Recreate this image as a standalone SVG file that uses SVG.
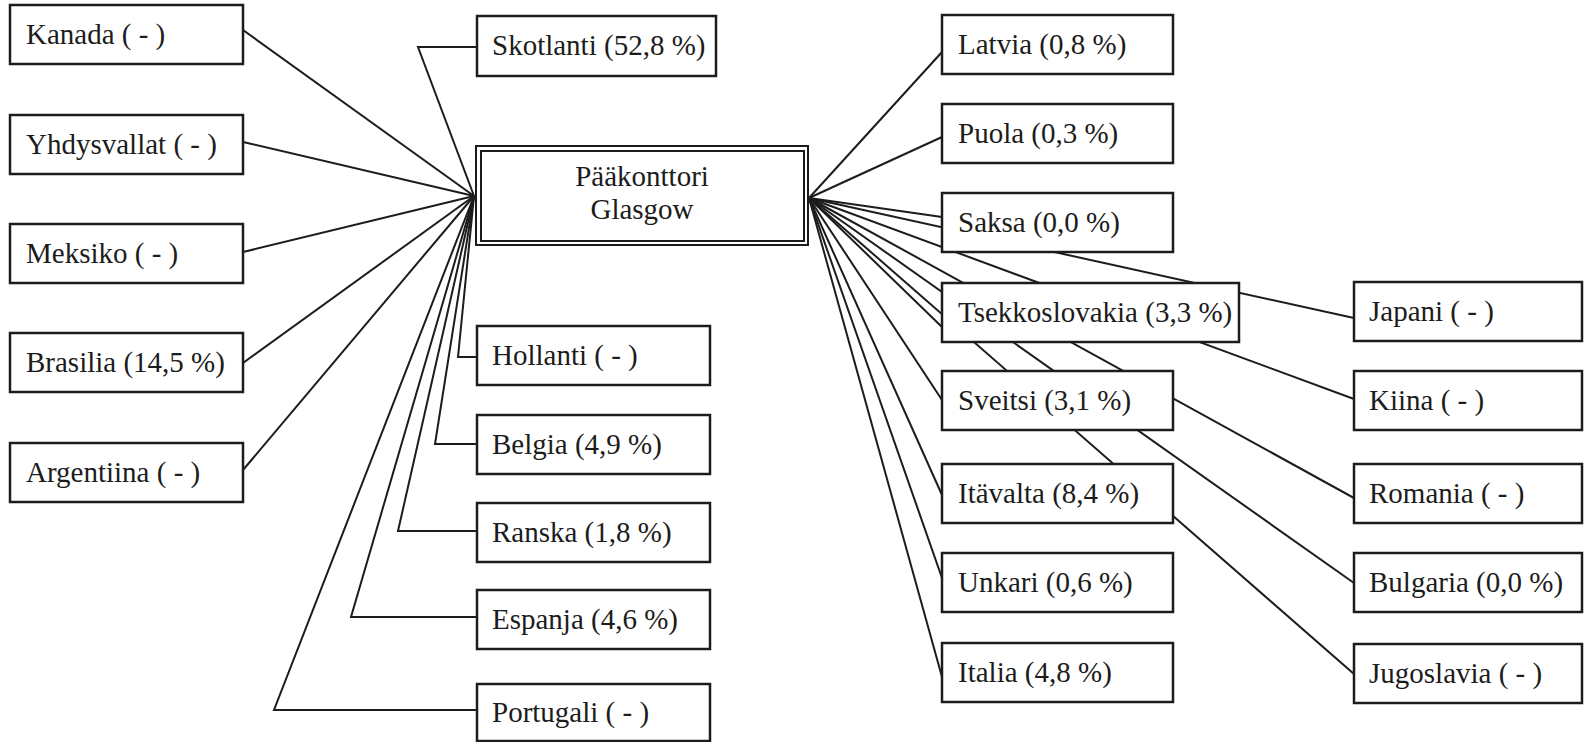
<svg xmlns="http://www.w3.org/2000/svg" width="1584" height="742" viewBox="0 0 1584 742">
<style>
.bg{fill:#ffffff}
.box{fill:#ffffff;stroke:#1c1c1c;stroke-width:2.5}
.hub{fill:none;stroke:#1c1c1c;stroke-width:2}
.lbl{font-family:"Liberation Serif","Times New Roman",serif;font-size:29px;fill:#1c1c1c}
.ctr{text-anchor:middle}
.con line,.con polyline{fill:none;stroke:#1c1c1c;stroke-width:2}
</style>
<rect class="bg" x="0" y="0" width="1584" height="742"/>
<g id="connectors" class="con">
<line x1="243" y1="30" x2="474" y2="196"/>
<line x1="243" y1="142" x2="474" y2="196"/>
<line x1="243" y1="252" x2="474" y2="196"/>
<line x1="243" y1="363" x2="474" y2="196"/>
<line x1="243" y1="470" x2="474" y2="196"/>
<polyline points="474,196 418,47 477,47"/>
<polyline points="474,196 458,357 477,357"/>
<polyline points="474,196 435,444 477,444"/>
<polyline points="474,196 398,531 477,531"/>
<polyline points="474,196 351,617 477,617"/>
<polyline points="474,196 274,710 477,710"/>
<line x1="809" y1="198" x2="942" y2="52"/>
<line x1="809" y1="198" x2="942" y2="137"/>
<line x1="809" y1="198" x2="942" y2="217"/>
<line x1="809" y1="198" x2="942" y2="327"/>
<line x1="809" y1="198" x2="942" y2="400"/>
<line x1="809" y1="198" x2="942" y2="495"/>
<line x1="809" y1="198" x2="942" y2="578"/>
<line x1="809" y1="198" x2="942" y2="677"/>
<line x1="809" y1="198" x2="1354" y2="318"/>
<line x1="809" y1="198" x2="1354" y2="399"/>
<line x1="809" y1="198" x2="1354" y2="498"/>
<line x1="809" y1="198" x2="1354" y2="583"/>
<line x1="809" y1="198" x2="1354" y2="674"/>
</g>
<g id="hub">
<rect x="476" y="146" width="332" height="99" fill="#ffffff" stroke="#1c1c1c" stroke-width="2"/>
<rect class="hub" x="481" y="151" width="323" height="90"/>
<text class="lbl ctr" x="642" y="186">Pääkonttori</text>
<text class="lbl ctr" x="642" y="219">Glasgow</text>
</g>
<g id="kanada"><rect class="box" x="10" y="5" width="233" height="59"/><text class="lbl" x="26" y="44">Kanada ( - )</text></g>
<g id="yhdysvallat"><rect class="box" x="10" y="115" width="233" height="59"/><text class="lbl" x="26" y="154">Yhdysvallat ( - )</text></g>
<g id="meksiko"><rect class="box" x="10" y="224" width="233" height="59"/><text class="lbl" x="26" y="263">Meksiko ( - )</text></g>
<g id="brasilia"><rect class="box" x="10" y="333" width="233" height="59"/><text class="lbl" x="26" y="372">Brasilia (14,5 %)</text></g>
<g id="argentiina"><rect class="box" x="10" y="443" width="233" height="59"/><text class="lbl" x="26" y="482">Argentiina ( - )</text></g>
<g id="skotlanti"><rect class="box" x="477" y="16" width="239" height="60"/><text class="lbl" x="492" y="55">Skotlanti (52,8 %)</text></g>
<g id="hollanti"><rect class="box" x="477" y="326" width="233" height="59"/><text class="lbl" x="492" y="365">Hollanti ( - )</text></g>
<g id="belgia"><rect class="box" x="477" y="415" width="233" height="59"/><text class="lbl" x="492" y="454">Belgia (4,9 %)</text></g>
<g id="ranska"><rect class="box" x="477" y="503" width="233" height="59"/><text class="lbl" x="492" y="542">Ranska (1,8 %)</text></g>
<g id="espanja"><rect class="box" x="477" y="590" width="233" height="59"/><text class="lbl" x="492" y="629">Espanja (4,6 %)</text></g>
<g id="portugali"><rect class="box" x="477" y="684" width="233" height="57"/><text class="lbl" x="492" y="722">Portugali ( - )</text></g>
<g id="latvia"><rect class="box" x="942" y="15" width="231" height="59"/><text class="lbl" x="958" y="54">Latvia (0,8 %)</text></g>
<g id="puola"><rect class="box" x="942" y="104" width="231" height="59"/><text class="lbl" x="958" y="143">Puola (0,3 %)</text></g>
<g id="saksa"><rect class="box" x="942" y="193" width="231" height="59"/><text class="lbl" x="958" y="232">Saksa (0,0 %)</text></g>
<g id="tsekkoslovakia"><rect class="box" x="942" y="283" width="297" height="59"/><text class="lbl" x="958" y="322">Tsekkoslovakia (3,3 %)</text></g>
<g id="sveitsi"><rect class="box" x="942" y="371" width="231" height="59"/><text class="lbl" x="958" y="410">Sveitsi (3,1 %)</text></g>
<g id="itavalta"><rect class="box" x="942" y="464" width="231" height="59"/><text class="lbl" x="958" y="503">Itävalta (8,4 %)</text></g>
<g id="unkari"><rect class="box" x="942" y="553" width="231" height="59"/><text class="lbl" x="958" y="592">Unkari (0,6 %)</text></g>
<g id="italia"><rect class="box" x="942" y="643" width="231" height="59"/><text class="lbl" x="958" y="682">Italia (4,8 %)</text></g>
<g id="japani"><rect class="box" x="1354" y="282" width="228" height="59"/><text class="lbl" x="1369" y="321">Japani ( - )</text></g>
<g id="kiina"><rect class="box" x="1354" y="371" width="228" height="59"/><text class="lbl" x="1369" y="410">Kiina ( - )</text></g>
<g id="romania"><rect class="box" x="1354" y="464" width="228" height="59"/><text class="lbl" x="1369" y="503">Romania ( - )</text></g>
<g id="bulgaria"><rect class="box" x="1354" y="553" width="228" height="59"/><text class="lbl" x="1369" y="592">Bulgaria (0,0 %)</text></g>
<g id="jugoslavia"><rect class="box" x="1354" y="644" width="228" height="59"/><text class="lbl" x="1369" y="683">Jugoslavia ( - )</text></g>
</svg>
